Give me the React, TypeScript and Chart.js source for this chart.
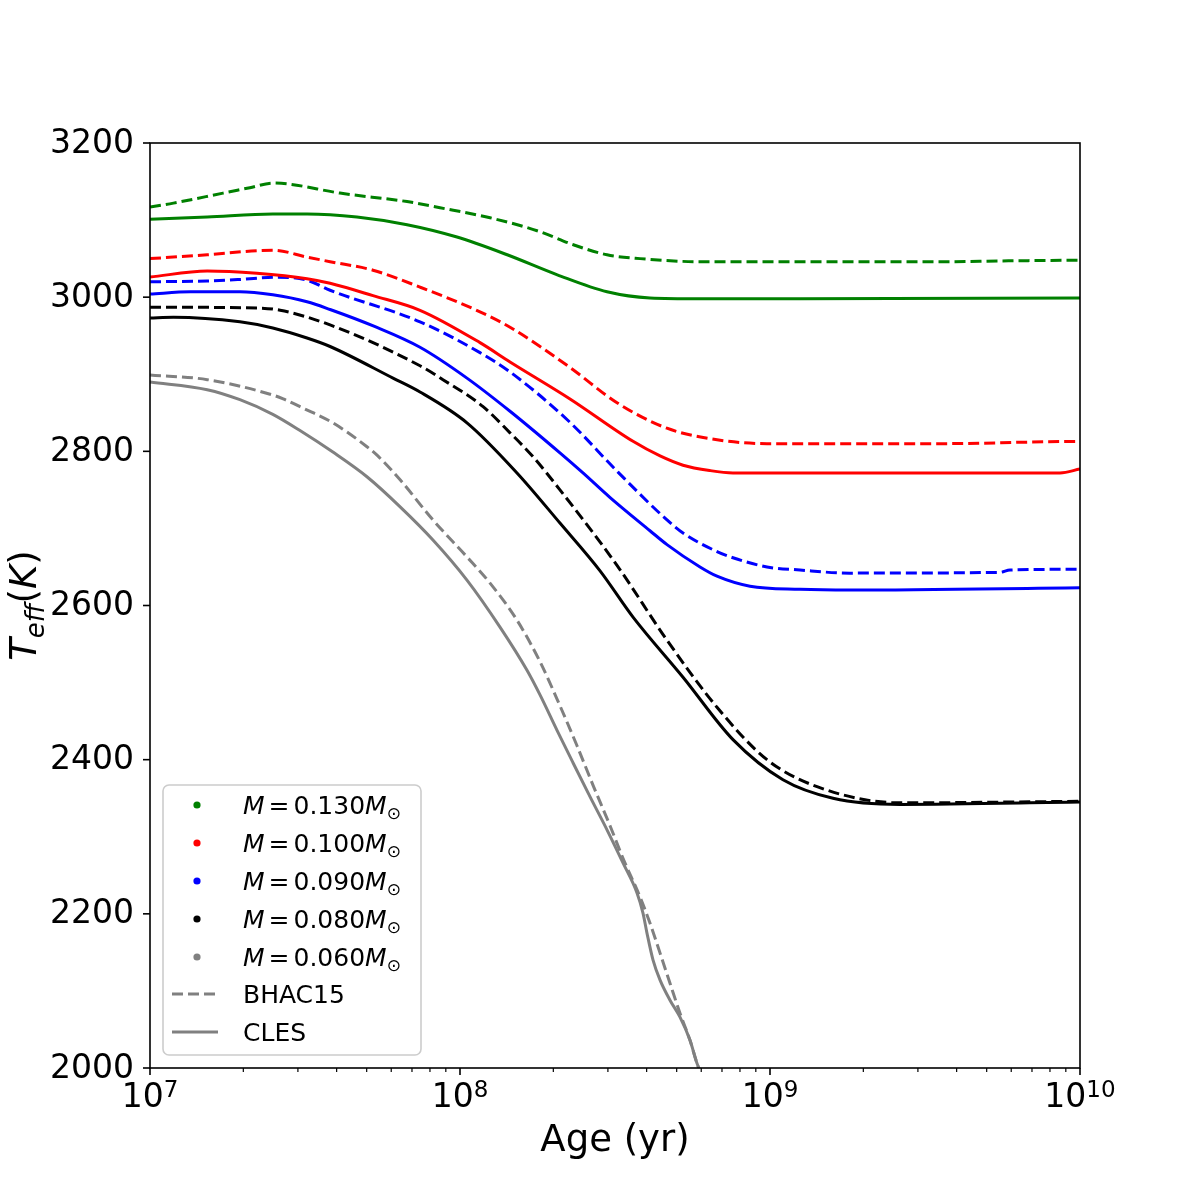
import React, { useEffect, useRef } from 'react';
import { Chart, registerables } from 'chart.js';

Chart.register(...registerables);

// ---- axis ticks ----
const xMajorTicks = [1e7, 1e8, 1e9, 1e10];
const xMajorExponents = ['7', '8', '9', '10'];
const yTicks = [2000, 2200, 2400, 2600, 2800, 3000, 3200];

// ---- legend ----
const massLabels = ['0.130', '0.100', '0.090', '0.080', '0.060'];
const massColors = ['#008000', '#ff0000', '#0000ff', '#000000', '#808080'];
const modelLabels = ['BHAC15', 'CLES'];

// ---- data: age (yr), Teff (K) ----
// M = 0.130
const ageB130 = [1e7, 1.19e7, 1.72e7, 2.1e7, 2.49e7, 2.77e7, 4.1e7, 6.75e7, 8.62e7, 1.25e8, 1.81e8, 2.32e8, 2.98e8, 3.81e8, 5.95e8, 1.25e9, 3.81e9, 5.52e9, 1e10];
const teffB130 = [3117, 3122, 3135, 3142, 3148, 3147, 3135, 3124, 3116, 3103, 3085, 3068, 3055, 3050, 3046, 3046, 3046, 3047, 3048];
const ageC130 = [1e7, 1.53e7, 2.49e7, 3.21e7, 4.65e7, 6.75e7, 9.78e7, 1.42e8, 2.06e8, 2.98e8, 4.1e8, 5.95e8, 1.25e9, 1e10];
const teffC130 = [3101, 3104, 3108, 3108, 3104, 3094, 3078, 3055, 3029, 3007, 2999, 2998, 2998, 2999];

// M = 0.100
const ageB100 = [1e7, 1.53e7, 2.49e7, 3.21e7, 3.81e7, 5.24e7, 7.43e7, 1.16e8, 1.45e8, 2.26e8, 3.21e8, 4.65e8, 6.75e8, 9.78e8, 3.81e9, 6.9e9, 1e10];
const teffB100 = [3050, 3055, 3061, 3052, 3046, 3035, 3013, 2981, 2961, 2909, 2863, 2830, 2815, 2810, 2810, 2812, 2813];
const ageC100 = [1e7, 1.53e7, 2.21e7, 3.21e7, 3.81e7, 5.24e7, 7.43e7, 1.16e8, 1.45e8, 2.264e8, 3.615e8, 4.42e8, 5.241e8, 6.405e8, 7.597e8, 8.62e9, 1e10];
const teffC100 = [3026, 3034, 3031, 3024, 3018, 3002, 2983, 2941, 2916, 2868, 2813, 2794, 2782, 2775, 2772, 2772, 2777];

// M = 0.090
const ageB090 = [1e7, 1.53e7, 1.95e7, 2.57e7, 3.21e7, 3.81e7, 7.43e7, 1.16e8, 1.45e8, 2.231e8, 3.233e8, 4.653e8, 5.241e8, 6.745e8, 7.597e8, 9.78e8, 1.25e9, 1.812e9, 5.52e9, 5.946e9, 1e10];
const teffB090 = [3020, 3021, 3023, 3026, 3022, 3009, 2968, 2928, 2903, 2840, 2773, 2711, 2694, 2670, 2662, 2650, 2646, 2642, 2643, 2646, 2647];
const ageC090 = [1e7, 1.35e7, 1.95e7, 2.49e7, 3.21e7, 3.81e7, 5.3e7, 7.43e7, 1.053e8, 1.45e8, 2.101e8, 2.493e8, 3.05e8, 4.1e8, 4.653e8, 5.946e8, 6.745e8, 8.62e8, 1.25e9, 1.812e9, 1e10];
const teffC090 = [3004, 3007, 3007, 3003, 2994, 2984, 2962, 2935, 2895, 2852, 2798, 2772, 2740, 2697, 2679, 2650, 2638, 2625, 2621, 2620, 2623];

// M = 0.080
const ageB080 = [1e7, 2.21e7, 2.63e7, 3.81e7, 7.43e7, 8.81e7, 1.187e8, 1.45e8, 1.72e8, 2.101e8, 3.21e8, 4.653e8, 6.745e8, 9.78e8, 1.418e9, 2.626e9, 1e10];
const teffB080 = [2987, 2986, 2983, 2964, 2911, 2893, 2858, 2824, 2793, 2750, 2652, 2555, 2468, 2400, 2365, 2344, 2346];
const ageC080 = [1e7, 1.19e7, 1.95e7, 2.49e7, 3.21e7, 3.81e7, 6.08e7, 7.43e7, 1.053e8, 1.527e8, 2.101e8, 2.83e8, 3.615e8, 5.241e8, 7.597e8, 1.101e9, 1.597e9, 2.626e9, 1e10];
const teffC080 = [2973, 2974, 2968, 2960, 2947, 2936, 2895, 2877, 2837, 2772, 2707, 2645, 2585, 2507, 2426, 2374, 2350, 2342, 2345];

// M = 0.060
const ageB060 = [1e7, 1.53e7, 2.49e7, 2.69e7, 3.116e7, 3.89e7, 5.01e7, 5.4e7, 6.41e7, 8.18e7, 1.053e8, 1.25e8, 1.527e8, 1.812e8, 2.101e8, 2.385e8, 2.685e8, 3.05e8, 3.356e8, 3.807e8, 4.1e8, 4.42e8, 4.758e8, 5.125e8, 5.52e8, 5.815e8, 5.946e8];
const teffB060 = [2899, 2893, 2873, 2868, 2856, 2837, 2806, 2795, 2763, 2711, 2663, 2629, 2581, 2527, 2470, 2418, 2367, 2314, 2272, 2222, 2188, 2149, 2110, 2071, 2036, 2006, 1996];
const ageC060 = [1e7, 1.53e7, 1.95e7, 2.49e7, 3.047e7, 3.89e7, 5.01e7, 6.41e7, 8.18e7, 1.053e8, 1.346e8, 1.645e8, 1.812e8, 2.056e8, 2.315e8, 2.626e8, 2.98e8, 3.356e8, 3.724e8, 3.893e8, 4.01e8, 4.195e8, 4.42e8, 4.758e8, 5.125e8, 5.52e8, 5.815e8, 5.946e8];
const teffC060 = [2890, 2880, 2867, 2848, 2827, 2799, 2767, 2728, 2685, 2633, 2572, 2516, 2484, 2438, 2396, 2352, 2309, 2266, 2227, 2201, 2175, 2140, 2114, 2088, 2066, 2036, 2006, 1996];

const seriesBHAC = [
  [ageB130, teffB130],
  [ageB100, teffB100],
  [ageB090, teffB090],
  [ageB080, teffB080],
  [ageB060, teffB060],
];
const seriesCLES = [
  [ageC130, teffC130],
  [ageC100, teffC100],
  [ageC090, teffC090],
  [ageC080, teffC080],
  [ageC060, teffC060],
];

const FONT = '"DejaVu Sans"';

function toPoints(ages: number[], teff: number[]) {
  return ages.map((a, i) => ({ x: a, y: teff[i] }));
}

const decorPlugin = {
  id: 'decor',
  afterDraw(chart: any) {
    const ctx: CanvasRenderingContext2D = chart.ctx;
    const { left, right, top, bottom } = chart.chartArea;
    const xs = chart.scales.x;
    const ys = chart.scales.y;
    ctx.save();
    ctx.fillStyle = '#000';
    ctx.strokeStyle = '#000';

    // frame
    ctx.lineWidth = 1.6;
    ctx.strokeRect(left, top, right - left, bottom - top);

    // x ticks (major + minor)
    for (let n = 7; n <= 10; n++) {
      for (let m = 1; m <= 9; m++) {
        const v = m * Math.pow(10, n);
        if (v > 1e10 * 1.0001) continue;
        const px = xs.getPixelForValue(v);
        const len = m === 1 ? 7 : 4;
        ctx.lineWidth = m === 1 ? 1.6 : 1.2;
        ctx.beginPath();
        ctx.moveTo(px, bottom);
        ctx.lineTo(px, bottom + len);
        ctx.stroke();
      }
    }
    // x tick labels 10^n
    xMajorTicks.forEach((v, i) => {
      const px = xs.getPixelForValue(v);
      ctx.font = `33px ${FONT}`;
      const wBase = ctx.measureText('10').width;
      ctx.font = `23px ${FONT}`;
      const wExp = ctx.measureText(xMajorExponents[i]).width;
      const start = px - (wBase + wExp) / 2;
      ctx.textAlign = 'left';
      ctx.textBaseline = 'alphabetic';
      ctx.font = `33px ${FONT}`;
      ctx.fillText('10', start, 1107);
      ctx.font = `23px ${FONT}`;
      ctx.fillText(xMajorExponents[i], start + wBase, 1097);
    });

    // y ticks
    yTicks.forEach((v) => {
      const py = ys.getPixelForValue(v);
      ctx.lineWidth = 1.6;
      ctx.beginPath();
      ctx.moveTo(left - 7, py);
      ctx.lineTo(left, py);
      ctx.stroke();
      ctx.font = `33px ${FONT}`;
      ctx.textAlign = 'right';
      ctx.textBaseline = 'middle';
      ctx.fillText(String(v), left - 16, py + 1);
    });

    // x axis title
    ctx.font = `37px ${FONT}`;
    ctx.textAlign = 'center';
    ctx.textBaseline = 'alphabetic';
    ctx.fillText('Age (yr)', (left + right) / 2, 1151);

    // y axis title: T_eff(K)
    ctx.save();
    ctx.translate(36, (top + bottom) / 2);
    ctx.rotate(-Math.PI / 2);
    ctx.textAlign = 'left';
    ctx.textBaseline = 'alphabetic';
    const parts: [string, string, number][] = [
      ['T', `italic 37px ${FONT}`, 0],
      ['eff', `italic 26px ${FONT}`, 8],
      ['(', `37px ${FONT}`, 0],
      ['K', `italic 37px ${FONT}`, 0],
      [')', `37px ${FONT}`, 0],
    ];
    let total = 0;
    parts.forEach(([t, f]) => { ctx.font = f; total += ctx.measureText(t).width; });
    let cx = -total / 2;
    parts.forEach(([t, f, dy]) => {
      ctx.font = f;
      ctx.fillText(t, cx, dy);
      cx += ctx.measureText(t).width;
    });
    ctx.restore();

    // legend
    const bx = 163, by = 785, bw = 258, bh = 270, r = 6;
    ctx.beginPath();
    ctx.moveTo(bx + r, by);
    ctx.lineTo(bx + bw - r, by);
    ctx.arcTo(bx + bw, by, bx + bw, by + r, r);
    ctx.lineTo(bx + bw, by + bh - r);
    ctx.arcTo(bx + bw, by + bh, bx + bw - r, by + bh, r);
    ctx.lineTo(bx + r, by + bh);
    ctx.arcTo(bx, by + bh, bx, by + bh - r, r);
    ctx.lineTo(bx, by + r);
    ctx.arcTo(bx, by, bx + r, by, r);
    ctx.closePath();
    ctx.fillStyle = 'rgba(255,255,255,0.8)';
    ctx.fill();
    ctx.strokeStyle = '#cccccc';
    ctx.lineWidth = 1.6;
    ctx.stroke();

    const rowY = [805, 843, 881, 919, 957, 994, 1032];
    const textX = 243;
    massLabels.forEach((mass, i) => {
      const y = rowY[i];
      ctx.fillStyle = massColors[i];
      ctx.beginPath();
      ctx.arc(197, y, 3.6, 0, Math.PI * 2);
      ctx.fill();
      ctx.fillStyle = '#000';
      ctx.textAlign = 'left';
      ctx.textBaseline = 'alphabetic';
      const base = y + 9;
      let x = textX;
      ctx.font = `italic 25px ${FONT}`;
      ctx.fillText('M', x, base);
      x += ctx.measureText('M').width + 4;
      ctx.font = `25px ${FONT}`;
      ctx.fillText('=', x, base);
      x += ctx.measureText('=').width + 4;
      ctx.fillText(mass, x, base);
      x += ctx.measureText(mass).width;
      ctx.font = `italic 25px ${FONT}`;
      ctx.fillText('M', x, base);
      x += ctx.measureText('M').width;
      ctx.font = `17px ${FONT}`;
      ctx.fillText('\u2299', x, base + 5);
    });
    // model entries
    ctx.strokeStyle = '#808080';
    ctx.lineWidth = 3;
    ctx.setLineDash([11, 5]);
    ctx.beginPath();
    ctx.moveTo(172, rowY[5]);
    ctx.lineTo(218, rowY[5]);
    ctx.stroke();
    ctx.setLineDash([]);
    ctx.beginPath();
    ctx.moveTo(172, rowY[6]);
    ctx.lineTo(218, rowY[6]);
    ctx.stroke();
    ctx.fillStyle = '#000';
    ctx.font = `25px ${FONT}`;
    ctx.textAlign = 'left';
    ctx.fillText(modelLabels[0], textX, rowY[5] + 9);
    ctx.fillText(modelLabels[1], textX, rowY[6] + 9);

    ctx.restore();
  },
};

export default function App() {
  const canvasRef = useRef<HTMLCanvasElement | null>(null);

  useEffect(() => {
    document.body.style.margin = '0';
    const canvas = canvasRef.current;
    if (!canvas) return;

    const datasets: any[] = [];
    for (let i = 0; i < 5; i++) {
      datasets.push({
        label: `BHAC15 ${massLabels[i]}`,
        data: toPoints(seriesBHAC[i][0], seriesBHAC[i][1]),
        borderColor: massColors[i],
        borderWidth: 3,
        borderDash: [11, 5],
        pointRadius: 0,
        fill: false,
        cubicInterpolationMode: 'monotone',
        clip: 0,
      });
      datasets.push({
        label: `CLES ${massLabels[i]}`,
        data: toPoints(seriesCLES[i][0], seriesCLES[i][1]),
        borderColor: massColors[i],
        borderWidth: 3,
        pointRadius: 0,
        fill: false,
        cubicInterpolationMode: 'monotone',
        clip: 0,
      });
    }

    const chart = new Chart(canvas, {
      type: 'line',
      data: { datasets },
      options: {
        animation: false,
        responsive: true,
        maintainAspectRatio: false,
        layout: { padding: { left: 0, right: 120, top: 143, bottom: 0 } },
        plugins: { legend: { display: false }, tooltip: { enabled: false } },
        scales: {
          x: {
            type: 'logarithmic',
            min: 1e7,
            max: 1e10,
            ticks: { display: false },
            grid: { display: false },
            border: { display: false },
            afterFit: (s: any) => { s.height = 132; },
          },
          y: {
            type: 'linear',
            min: 2000,
            max: 3200,
            ticks: { display: false },
            grid: { display: false },
            border: { display: false },
            afterFit: (s: any) => { s.width = 150; },
          },
        },
      } as any,
      plugins: [decorPlugin],
    });

    return () => chart.destroy();
  }, []);

  return (
    <div style={{ position: 'absolute', left: 0, top: 0, width: 1200, height: 1200, background: '#fff' }}>
      <canvas ref={canvasRef} />
    </div>
  );
}
